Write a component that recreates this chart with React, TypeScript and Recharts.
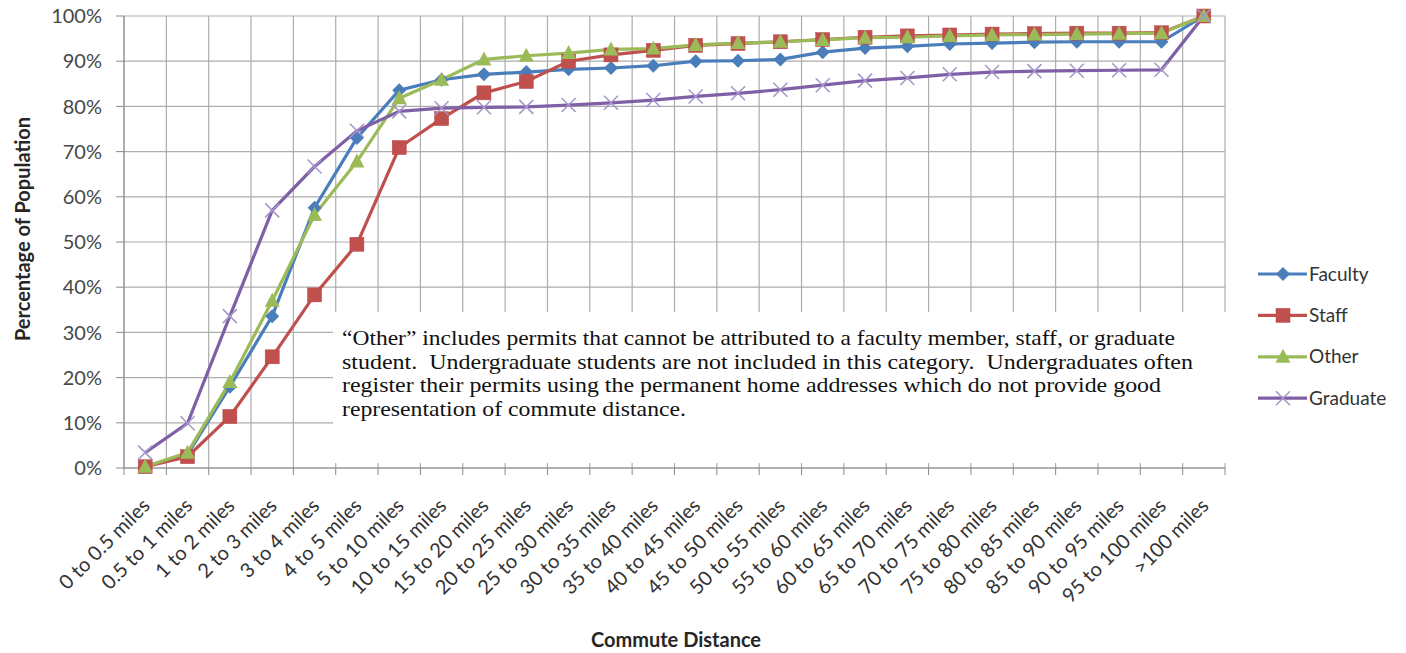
import React from 'react';
import { LineChart, Line, XAxis, YAxis, CartesianGrid } from 'recharts';

const categories = [
  '0 to 0.5 miles', '0.5 to 1 miles', '1 to 2 miles', '2 to 3 miles', '3 to 4 miles',
  '4 to 5 miles', '5 to 10 miles', '10 to 15 miles', '15 to 20 miles', '20 to 25 miles',
  '25 to 30 miles', '30 to 35 miles', '35 to 40 miles', '40 to 45 miles', '45 to 50 miles',
  '50 to 55 miles', '55 to 60 miles', '60 to 65 miles', '65 to 70 miles', '70 to 75 miles',
  '75 to 80 miles', '80 to 85 miles', '85 to 90 miles', '90 to 95 miles', '95 to 100 miles',
  '>100 miles',
];

const faculty = [0.3, 3.0, 18.0, 33.6, 57.6, 73.0, 83.6, 85.9, 87.1, 87.6, 88.2, 88.5, 89.0, 90.0, 90.1, 90.4, 92.0, 92.9, 93.3, 93.8, 94.0, 94.2, 94.3, 94.3, 94.3, 100];
const staff = [0.3, 2.5, 11.4, 24.6, 38.3, 49.5, 70.9, 77.3, 83.0, 85.5, 90.0, 91.4, 92.4, 93.5, 93.9, 94.3, 94.8, 95.3, 95.6, 95.8, 96.0, 96.1, 96.2, 96.2, 96.3, 100];
const other = [0.3, 3.4, 19.0, 37.0, 56.0, 67.8, 81.8, 85.9, 90.4, 91.2, 91.8, 92.6, 92.8, 93.6, 94.0, 94.3, 94.7, 95.2, 95.3, 95.6, 95.8, 95.9, 96.0, 96.1, 96.2, 100];
const graduate = [3.4, 9.9, 33.6, 57.0, 66.7, 74.6, 78.9, 79.6, 79.8, 79.9, 80.3, 80.8, 81.4, 82.2, 82.9, 83.7, 84.7, 85.7, 86.3, 87.1, 87.6, 87.8, 87.9, 88.0, 88.1, 100];

const yTicks = [0, 10, 20, 30, 40, 50, 60, 70, 80, 90, 100];

const noteLines = [
  '\u201COther\u201D includes permits that cannot be attributed to a faculty member, staff, or graduate',
  'student.  Undergraduate students are not included in this category.  Undergraduates often',
  'register their permits using the permanent home addresses which do not provide good',
  'representation of commute distance.',
];
const noteWidths = [833, 851, 819, 344];

// each category sits in the middle of its slot on a 0..n number axis
const data = categories.map((cat, i) => ({
  pos: i + 0.5,
  cat,
  faculty: faculty[i],
  staff: staff[i],
  other: other[i],
  graduate: graduate[i],
}));

// slot boundaries: grid lines and tick marks go here, like Excel
const boundaries = Array.from({ length: categories.length + 1 }, (_, i) => i);

const BLUE = '#4A7EBB';
const RED = '#C0504D';
const GREEN = '#9BBB59';
const PURPLE = '#7F5FA6';
const LAVENDER = '#A396C8';

const labelFont = 'Lato, "Open Sans", sans-serif';

const drawMarker = (kind: string, cx: number, cy: number, key?: any) => {
  if (kind === 'diamond') {
    return <path key={key} d={`M${cx},${cy - 7}L${cx + 7},${cy}L${cx},${cy + 7}L${cx - 7},${cy}Z`} fill={BLUE} />;
  }
  if (kind === 'square') {
    return <rect key={key} x={cx - 7} y={cy - 7} width={14} height={14} fill={RED} stroke="#B8474A" strokeWidth={0.5} />;
  }
  if (kind === 'triangle') {
    return <path key={key} d={`M${cx},${cy - 8}L${cx + 7.5},${cy + 6}L${cx - 7.5},${cy + 6}Z`} fill={GREEN} />;
  }
  return (
    <g key={key}>
      <line x1={cx - 7} y1={cy - 7} x2={cx + 7} y2={cy + 7} stroke={LAVENDER} strokeWidth={1.5} />
      <line x1={cx - 7} y1={cy + 7} x2={cx + 7} y2={cy - 7} stroke={LAVENDER} strokeWidth={1.5} />
    </g>
  );
};

const dotFor = (kind: string) => (props: any) => drawMarker(kind, props.cx, props.cy, props.index);

const series = [
  { key: 'faculty', name: 'Faculty', color: BLUE, marker: 'diamond' },
  { key: 'staff', name: 'Staff', color: RED, marker: 'square' },
  { key: 'other', name: 'Other', color: GREEN, marker: 'triangle' },
  { key: 'graduate', name: 'Graduate', color: PURPLE, marker: 'x' },
];

// tick sits on a slot boundary; the label belongs to the slot to its right
const CatTick = (props: any) => {
  const { x, y, payload, width } = props;
  const idx = payload.value;
  if (idx >= categories.length) return <g />;
  const half = width / categories.length / 2;
  return (
    <g transform={`translate(${x + half + 6},${y + 30})`}>
      <text textAnchor="end" transform="rotate(-45)" fontSize={20} fill="#333" fontFamily={labelFont}>
        {categories[idx]}
      </text>
    </g>
  );
};

export default function App() {
  return (
    <div style={{ position: 'relative', width: 1406, height: 653, background: '#fff' }}>
      <style>{'body{margin:0}'}</style>
      <LineChart width={1406} height={653} data={data} margin={{ top: 16, right: 181, left: 0, bottom: 0 }}>
        <CartesianGrid stroke="#ADADAD" strokeWidth={1.2} />
        <XAxis
          dataKey="pos"
          type="number"
          domain={[0, categories.length]}
          ticks={boundaries}
          interval={0}
          height={185}
          tickSize={7}
          stroke="#8A8A8A"
          tick={<CatTick />}
        />
        <YAxis
          domain={[0, 100]}
          ticks={yTicks}
          width={124}
          tickSize={8}
          tickMargin={14}
          stroke="#8A8A8A"
          tickFormatter={(v) => `${v}%`}
          tick={{ fill: '#474747', fontSize: 20, fontFamily: labelFont }}
        />
        {series.map((s) => (
          <Line
            key={s.key}
            type="linear"
            dataKey={s.key}
            name={s.name}
            stroke={s.color}
            strokeWidth={3.2}
            dot={dotFor(s.marker)}
            activeDot={false}
            isAnimationActive={false}
          />
        ))}
      </LineChart>
      <svg
        width={1406}
        height={653}
        style={{ position: 'absolute', left: 0, top: 0, pointerEvents: 'none' }}
      >
        <text
          transform="translate(30,229) rotate(-90)"
          textAnchor="middle"
          fontSize={20}
          fontWeight="bold"
          fill="#262626"
          fontFamily={labelFont}
        >
          Percentage of Population
        </text>
        <text x={676} y={647} textAnchor="middle" fontSize={20} fontWeight="bold" fill="#262626" fontFamily={labelFont}>
          Commute Distance
        </text>
        <rect x={333} y={312} width={894} height={151} fill="#fff" />
        {noteLines.map((line, i) => (
          <text
            key={i}
            x={342}
            y={345 + i * 23.5}
            fontSize={21}
            fill="#111"
            textLength={noteWidths[i]}
            lengthAdjust="spacingAndGlyphs"
            style={{ whiteSpace: 'pre' }}
            fontFamily='"Palatino Linotype", "Book Antiqua", "Liberation Serif", serif'
          >
            {line}
          </text>
        ))}
        {series.map((s, i) => {
          const cy = 274 + i * 41.4;
          return (
            <g key={s.key}>
              <line x1={1258} y1={cy} x2={1307} y2={cy} stroke={s.color} strokeWidth={3.2} />
              {drawMarker(s.marker, 1283, cy)}
              <text x={1309} y={cy + 6.5} fontSize={19} fill="#333" fontFamily={labelFont}>
                {s.name}
              </text>
            </g>
          );
        })}
      </svg>
    </div>
  );
}
